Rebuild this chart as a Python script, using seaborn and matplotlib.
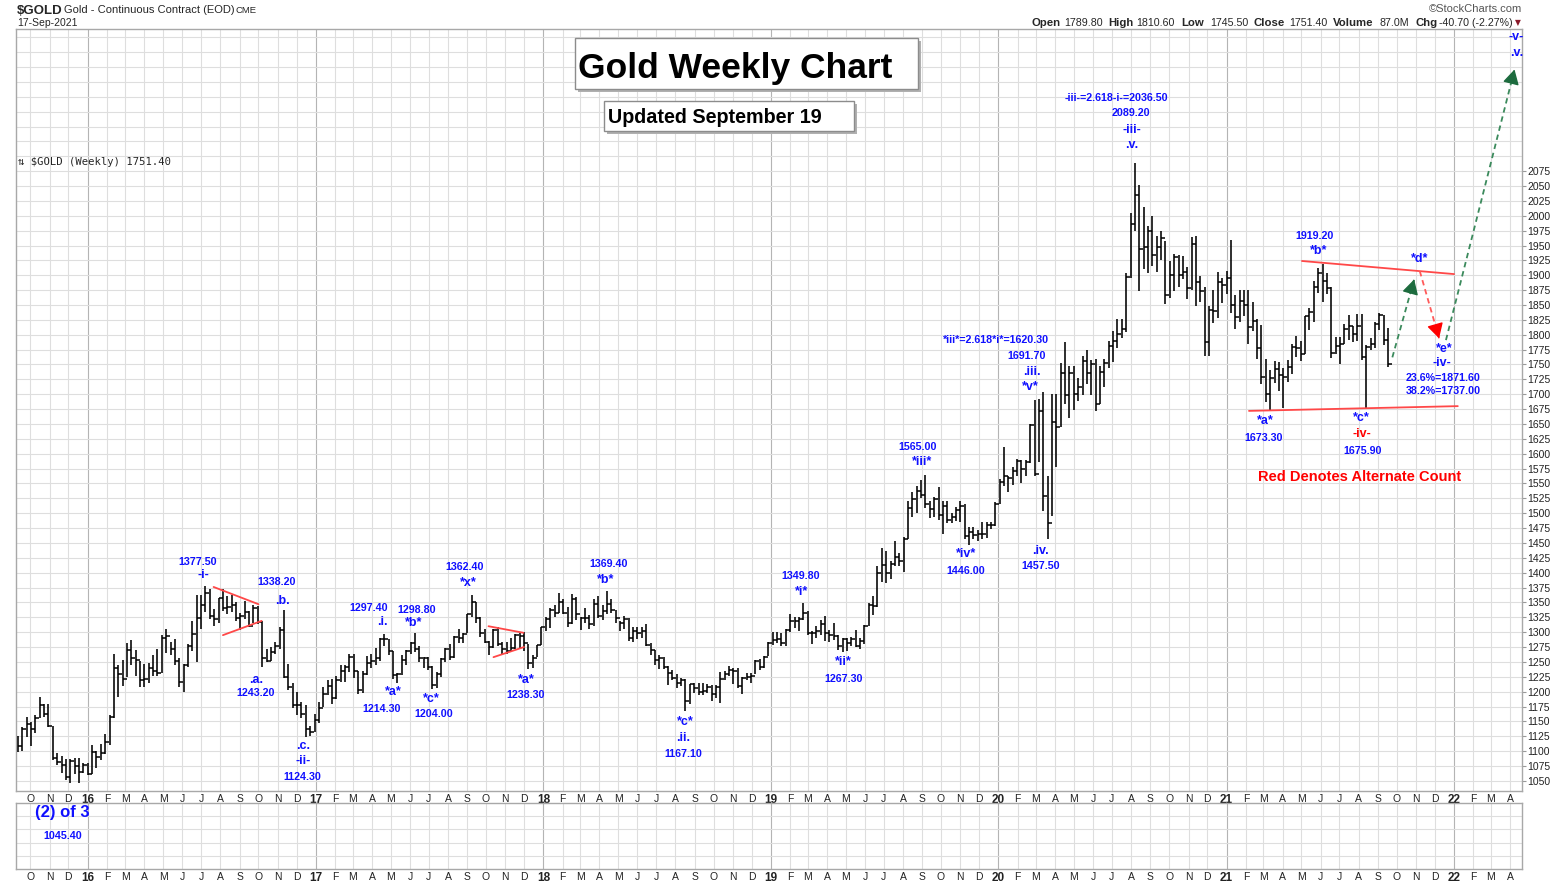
import numpy as np
import pandas as pd
import matplotlib
matplotlib.use("Agg")
import matplotlib.pyplot as plt
import matplotlib.dates as mdates
from matplotlib.patches import Rectangle
import seaborn as sns

# weekly high / low / close (week ending Friday)
high_2015 = [1125, 1141, 1157, 1149, 1160, 1191, 1180, 1180, 1143, 1097, 1091, 1086, 1087, 1088, 1088, 1080]
low_2015 = [1098, 1101, 1124, 1108, 1131, 1155, 1157, 1141, 1085, 1077, 1063, 1052, 1046, 1061, 1046, 1063]
close_2015 = [1108, 1137, 1145, 1137, 1156, 1177, 1163, 1142, 1088, 1081, 1076, 1056, 1084, 1075, 1065, 1076]

high_2016 = [1080, 1111, 1100, 1112, 1128, 1160, 1263, 1244, 1253, 1281, 1287, 1270, 1251,
             1246, 1249, 1262, 1272, 1296, 1306, 1284, 1289, 1257, 1246, 1280, 1318, 1362,
             1362, 1377, 1372, 1339, 1358, 1373, 1361, 1363, 1350, 1333, 1353, 1336, 1346, 1344,
             1318, 1271, 1275, 1284, 1309, 1338, 1246, 1215, 1199, 1183, 1178, 1142, 1163]
low_2016 = [1060, 1062, 1071, 1085, 1096, 1111, 1156, 1191, 1209, 1225, 1244, 1227, 1207,
            1208, 1215, 1227, 1226, 1232, 1265, 1262, 1244, 1208, 1200, 1241, 1268, 1250,
            1306, 1334, 1322, 1310, 1315, 1336, 1331, 1334, 1318, 1304, 1322, 1308, 1316, 1313,
            1241, 1250, 1252, 1263, 1272, 1223, 1203, 1172, 1160, 1156, 1124, 1125, 1133]
close_2016 = [1061, 1098, 1090, 1097, 1116, 1157, 1239, 1230, 1221, 1270, 1257, 1254, 1220,
              1222, 1239, 1235, 1231, 1290, 1294, 1272, 1252, 1216, 1244, 1276, 1297, 1323,
              1345, 1366, 1327, 1322, 1357, 1340, 1342, 1346, 1324, 1327, 1334, 1310, 1341, 1317,
              1257, 1252, 1266, 1276, 1304, 1225, 1208, 1178, 1177, 1162, 1137, 1133, 1152]

high_2017 = [1182, 1207, 1219, 1221, 1226, 1245, 1245, 1264, 1263, 1235, 1234, 1260, 1263,
             1274, 1291, 1297, 1288, 1269, 1232, 1262, 1270, 1283, 1298, 1276, 1258, 1259,
             1243, 1233, 1257, 1274, 1280, 1293, 1306, 1298, 1330, 1362, 1350, 1325, 1306,
             1286, 1306, 1309, 1284, 1284, 1290, 1297, 1299, 1300, 1280, 1262, 1278, 1309]
low_2017 = [1148, 1174, 1195, 1180, 1188, 1216, 1216, 1233, 1223, 1196, 1197, 1228, 1240,
            1244, 1251, 1276, 1262, 1222, 1214, 1228, 1245, 1263, 1267, 1250, 1240, 1236,
            1204, 1206, 1225, 1250, 1254, 1256, 1281, 1281, 1298, 1326, 1316, 1292, 1282,
            1262, 1273, 1276, 1263, 1264, 1266, 1271, 1273, 1268, 1238, 1240, 1258, 1278]
close_2017 = [1173, 1196, 1210, 1190, 1220, 1234, 1242, 1258, 1234, 1202, 1230, 1249, 1251,
              1257, 1289, 1288, 1268, 1228, 1229, 1254, 1268, 1281, 1272, 1256, 1256, 1242,
              1212, 1229, 1255, 1272, 1258, 1292, 1291, 1297, 1330, 1351, 1324, 1298, 1284,
              1275, 1304, 1280, 1272, 1269, 1273, 1296, 1293, 1281, 1248, 1257, 1278, 1309]

high_2018 = [1326, 1340, 1345, 1366, 1355, 1343, 1365, 1359, 1325, 1341, 1329, 1356, 1360,
             1346, 1369, 1356, 1337, 1318, 1327, 1323, 1308, 1308, 1309, 1314, 1281, 1270,
             1262, 1259, 1243, 1236, 1229, 1223, 1221, 1213, 1214, 1214, 1215, 1213, 1212,
             1212, 1233, 1235, 1243, 1239, 1239, 1225, 1232, 1231, 1253, 1255, 1260, 1284]
low_2018 = [1302, 1307, 1326, 1332, 1331, 1308, 1314, 1321, 1303, 1316, 1306, 1310, 1323,
            1320, 1330, 1332, 1316, 1302, 1306, 1286, 1283, 1288, 1291, 1276, 1261, 1245,
            1238, 1238, 1211, 1219, 1206, 1209, 1167, 1180, 1197, 1194, 1194, 1197, 1184,
            1189, 1181, 1220, 1226, 1213, 1206, 1196, 1219, 1214, 1229, 1236, 1239, 1260]
close_2018 = [1322, 1338, 1333, 1350, 1333, 1316, 1356, 1330, 1323, 1324, 1313, 1347, 1327,
              1336, 1347, 1338, 1323, 1315, 1322, 1291, 1302, 1298, 1302, 1278, 1270, 1254,
              1256, 1241, 1231, 1223, 1214, 1219, 1184, 1213, 1206, 1200, 1201, 1207, 1196,
              1207, 1222, 1229, 1236, 1234, 1210, 1223, 1224, 1226, 1252, 1242, 1258, 1282]

high_2019 = [1300, 1300, 1298, 1305, 1331, 1326, 1325, 1349, 1335, 1302, 1311, 1320, 1328,
             1304, 1316, 1296, 1291, 1290, 1292, 1304, 1290, 1312, 1349, 1361, 1411, 1442,
             1436, 1419, 1453, 1433, 1460, 1520, 1535, 1546, 1555, 1565, 1520, 1527, 1544,
             1521, 1521, 1500, 1511, 1520, 1516, 1476, 1477, 1471, 1486, 1486, 1485, 1519]
low_2019 = [1279, 1281, 1277, 1276, 1301, 1307, 1302, 1321, 1295, 1280, 1290, 1296, 1286,
            1283, 1287, 1270, 1267, 1268, 1276, 1275, 1271, 1280, 1310, 1329, 1342, 1384,
            1382, 1389, 1412, 1412, 1401, 1456, 1493, 1501, 1526, 1508, 1492, 1493, 1488,
            1465, 1483, 1483, 1487, 1486, 1456, 1446, 1456, 1453, 1456, 1459, 1473, 1478]
close_2019 = [1287, 1289, 1282, 1303, 1318, 1318, 1322, 1332, 1299, 1298, 1302, 1313, 1298,
              1295, 1294, 1276, 1288, 1281, 1288, 1277, 1285, 1311, 1346, 1344, 1400, 1413,
              1400, 1415, 1427, 1419, 1457, 1509, 1524, 1537, 1530, 1515, 1507, 1524, 1497,
              1512, 1489, 1494, 1505, 1512, 1462, 1468, 1463, 1465, 1465, 1481, 1481, 1515]

high_2020 = [1557, 1611, 1563, 1577, 1591, 1589, 1589, 1650, 1691, 1692, 1703, 1562, 1700,
             1700, 1752, 1788, 1747, 1747, 1728, 1765, 1775, 1757, 1759, 1748, 1759, 1789,
             1807, 1826, 1826, 1904, 2005, 2089, 2052, 2015, 1983, 2000, 1966, 1975, 1958,
             1924, 1936, 1934, 1933, 1914, 1965, 1966, 1899, 1880, 1848, 1875, 1906, 1896]
low_2020 = [1516, 1546, 1536, 1548, 1562, 1551, 1563, 1584, 1563, 1586, 1503, 1457, 1496,
            1578, 1645, 1683, 1660, 1674, 1688, 1699, 1717, 1699, 1671, 1683, 1713, 1744,
            1754, 1777, 1794, 1805, 1896, 1975, 1874, 1911, 1903, 1916, 1906, 1925, 1851,
            1862, 1873, 1881, 1894, 1860, 1875, 1848, 1855, 1765, 1765, 1819, 1829, 1854]
close_2020 = [1552, 1562, 1560, 1571, 1587, 1574, 1586, 1648, 1566, 1672, 1529, 1484, 1654,
              1645, 1736, 1698, 1736, 1700, 1713, 1756, 1735, 1751, 1683, 1737, 1753, 1781,
              1790, 1801, 1810, 1897, 1986, 2035, 1944, 1947, 1975, 1934, 1948, 1962, 1866,
              1900, 1930, 1900, 1905, 1879, 1952, 1889, 1873, 1788, 1841, 1840, 1888, 1883]

high_2021 = [1907, 1959, 1867, 1876, 1875, 1875, 1855, 1826, 1816, 1760, 1740, 1756, 1755,
             1744, 1758, 1784, 1798, 1790, 1832, 1845, 1890, 1913, 1919, 1903, 1880, 1797,
             1796, 1818, 1834, 1815, 1835, 1835, 1782, 1795, 1821, 1836, 1834, 1811]
low_2021 = [1869, 1836, 1809, 1822, 1831, 1785, 1807, 1760, 1717, 1687, 1673, 1719, 1705,
            1677, 1721, 1734, 1763, 1756, 1767, 1808, 1822, 1870, 1855, 1868, 1761, 1768,
            1750, 1784, 1792, 1788, 1789, 1757, 1676, 1774, 1777, 1808, 1783, 1746]
close_2021 = [1895, 1850, 1830, 1856, 1850, 1813, 1823, 1777, 1729, 1700, 1727, 1742, 1733,
              1729, 1745, 1780, 1777, 1768, 1831, 1838, 1881, 1903, 1891, 1879, 1769, 1781,
              1784, 1810, 1814, 1802, 1814, 1763, 1780, 1784, 1818, 1833, 1792, 1751]

# hand drawn trend lines: (date, price, date, price)
red_lines = [
    ("2016-07-21", 1376, "2016-10-01", 1347),
    ("2016-08-05", 1295, "2016-10-06", 1319),
    ("2017-10-05", 1310, "2017-11-30", 1299),
    ("2017-10-13", 1258, "2017-12-01", 1275),
    ("2021-05-02", 1924, "2022-01-01", 1902),
    ("2021-02-06", 1672, "2022-01-07", 1680),
]
# projected path arrows: (date, price, date, price, line colour, head colour)
arrows = [
    ("2021-09-24", 1762, "2021-10-29", 1893, "#3b8a5c", "#1d6b3e"),
    ("2021-11-07", 1907, "2021-12-08", 1794, "#ff5a5a", "#ff0000"),
    ("2021-12-19", 1791, "2022-04-08", 2246, "#3b8a5c", "#1d6b3e"),
]

BLUE = "#1010ff"
RED = "#ff0000"
# wave labels: (date, price, text, font size, colour)
labels = [
    ("2016-06-26", 1418, "1377.50", 7.7, BLUE), ("2016-07-05", 1396, "-i-", 9, BLUE),
    ("2016-10-30", 1384, "1338.20", 7.7, BLUE), ("2016-11-09", 1352, ".b.", 9, BLUE),
    ("2016-09-27", 1220, ".a.", 9, BLUE), ("2016-09-26", 1198, "1243.20", 7.7, BLUE),
    ("2016-12-11", 1109, ".c.", 9, BLUE), ("2016-12-11", 1084, "-ii-", 9, BLUE),
    ("2016-12-11", 1057, "1124.30", 7.7, BLUE),
    ("2017-03-27", 1341, "1297.40", 7.7, BLUE), ("2017-04-17", 1317, ".i.", 9, BLUE),
    ("2017-06-12", 1337, "1298.80", 7.7, BLUE), ("2017-06-07", 1315, "*b*", 9, BLUE),
    ("2017-05-05", 1200, "*a*", 9, BLUE), ("2017-04-17", 1171, "1214.30", 7.7, BLUE),
    ("2017-07-06", 1188, "*c*", 9, BLUE), ("2017-07-09", 1162, "1204.00", 7.7, BLUE),
    ("2017-08-28", 1410, "1362.40", 7.7, BLUE), ("2017-09-02", 1383, "*x*", 9, BLUE),
    ("2017-12-05", 1220, "*a*", 9, BLUE), ("2017-12-03", 1194, "1238.30", 7.7, BLUE),
    ("2018-04-16", 1415, "1369.40", 7.7, BLUE), ("2018-04-11", 1388, "*b*", 9, BLUE),
    ("2018-08-16", 1149, "*c*", 9, BLUE), ("2018-08-14", 1122, ".ii.", 9, BLUE),
    ("2018-08-13", 1095, "1167.10", 7.7, BLUE),
    ("2019-02-18", 1394, "1349.80", 7.7, BLUE), ("2019-02-20", 1368, "*i*", 9, BLUE),
    ("2019-04-27", 1250, "*ii*", 9, BLUE), ("2019-04-27", 1221, "1267.30", 7.7, BLUE),
    ("2019-08-25", 1611, "1565.00", 7.7, BLUE), ("2019-08-31", 1586, "*iii*", 9, BLUE),
    ("2019-11-10", 1431, "*iv*", 9, BLUE), ("2019-11-10", 1403, "1446.00", 7.7, BLUE),
    ("2019-12-28", 1791, "*iii*=2.618*i*=1620.30", 7.7, BLUE),
    ("2020-02-16", 1764, "1691.70", 7.7, BLUE), ("2020-02-24", 1737, ".iii.", 9, BLUE),
    ("2020-02-21", 1712, "*v*", 9, BLUE),
    ("2020-03-09", 1436, ".iv.", 9, BLUE), ("2020-03-09", 1411, "1457.50", 7.7, BLUE),
    ("2020-07-09", 2198, "-iii-=2.618-i-=2036.50", 7.7, BLUE),
    ("2020-07-31", 2172, "2089.20", 7.7, BLUE), ("2020-08-02", 2144, "-iii-", 9, BLUE),
    ("2020-08-02", 2119, ".v.", 9, BLUE),
    ("2021-05-23", 1966, "1919.20", 7.7, BLUE), ("2021-05-28", 1941, "*b*", 9, BLUE),
    ("2021-11-06", 1927, "*d*", 9, BLUE),
    ("2021-03-04", 1655, "*a*", 9, BLUE), ("2021-03-01", 1626, "1673.30", 7.7, BLUE),
    ("2021-08-06", 1660, "*c*", 9, BLUE), ("2021-08-06", 1633, "-iv-", 9, RED),
    ("2021-08-07", 1604, "1675.90", 7.7, BLUE),
    ("2021-12-16", 1776, "*e*", 9, BLUE), ("2021-12-13", 1752, "-iv-", 9, BLUE),
    ("2021-12-14", 1727, "23.6%=1871.60", 7.7, BLUE), ("2021-12-14", 1705, "38.2%=1737.00", 7.7, BLUE),
    ("2021-08-03", 1561, "Red Denotes Alternate Count", 10.5, RED),
    ("2022-04-11", 2300, "-v-", 9, BLUE), ("2022-04-11", 2273, ".v.", 9, BLUE),
]

highs = high_2015 + high_2016 + high_2017 + high_2018 + high_2019 + high_2020 + high_2021
lows = low_2015 + low_2016 + low_2017 + low_2018 + low_2019 + low_2020 + low_2021
closes = close_2015 + close_2016 + close_2017 + close_2018 + close_2019 + close_2020 + close_2021
dates = pd.date_range(end="2021-09-17", periods=len(closes), freq="W-FRI")
df = pd.DataFrame({"date": dates, "high": highs, "low": lows, "close": closes})
df["x"] = mdates.date2num(df["date"])

sns.set_theme(style="white")
plt.rcParams["font.family"] = ["Liberation Sans", "DejaVu Sans"]

W, H = 1565, 885
fig = plt.figure(figsize=(W / 100, H / 100), dpi=100)


def fx(x):
    return x / W


def fy(y):
    return 1 - y / H


def D(s):
    return mdates.datestr2num(s)


ax = fig.add_axes([fx(16), fy(791), fx(1522) - fx(16), fy(29) - fy(791)])
ax2 = fig.add_axes([fx(16), fy(869), fx(1522) - fx(16), fy(803) - fy(869)])

xlim = (D("2015-09-08"), D("2022-04-20"))
months = pd.date_range("2015-10-01", "2022-04-01", freq="MS")
mnum = mdates.date2num(months)
mlab = [m.strftime("%y") if m.month == 1 else m.strftime("%b")[0] for m in months]

for a in (ax, ax2):
    a.set_xlim(*xlim)
    for m, n in zip(months, mnum):
        a.axvline(n, color="#b4b4b4" if m.month == 1 else "#dedede", lw=0.8, zorder=0)
    for s in a.spines.values():
        s.set_color("#a8a8a8")
        s.set_linewidth(1)
    a.set_xticks(mnum)
    a.set_xticklabels(mlab)
    a.tick_params(axis="x", length=0, pad=2, labelsize=7.5, colors="#222222")
    for t in a.get_xticklabels():
        if t.get_text().isdigit():
            t.set_fontweight("bold")
            t.set_fontsize(8.5)
    a.set_xlabel("")
    a.set_ylabel("")

ax.set_ylim(1033, 2314)
for lvl in range(1050, 2301, 25):
    ax.axhline(lvl, color="#dedede", lw=0.8, zorder=0)
ax.set_yticks(range(1050, 2076, 25))
ax.yaxis.tick_right()
ax.tick_params(axis="y", right=True, left=False, labelright=True, labelleft=False,
               length=3, width=0.8, color="#999999", pad=1, labelsize=7.5, labelcolor="#222222")

ax2.set_ylim(0, 5)
for lvl in range(1, 5):
    ax2.axhline(lvl, color="#dedede", lw=0.8, zorder=0)
ax2.set_yticks([])

# price bars
ax.vlines(df["x"], df["low"], df["high"], color="black", lw=1.15, zorder=3)
sns.scatterplot(data=df, x="x", y="close", marker=1, s=9, color="black",
                linewidth=1.1, ax=ax, zorder=4, legend=False)
ax.set_xlabel("")
ax.set_ylabel("")

for d0, p0, d1, p1 in red_lines:
    ax.plot([D(d0), D(d1)], [p0, p1], color="#ff4848", lw=1.3, zorder=5)

for d0, p0, d1, p1, lc, hc in arrows:
    x0, x1 = D(d0), D(d1)
    ax.plot([x0, x1], [p0, p1], color=lc, lw=1.3, ls=(0, (3, 2.2)), zorder=5)
    a0 = ax.transData.transform((x0, p0))
    a1 = ax.transData.transform((x1, p1))
    f = 12 / np.hypot(*(a1 - a0))
    ax.annotate("", xy=(x1, p1), xytext=(x1 - f * (x1 - x0), p1 - f * (p1 - p0)),
                arrowprops=dict(arrowstyle="-|>,head_length=0.9,head_width=0.5",
                                color=hc, lw=1, shrinkA=0, shrinkB=0, mutation_scale=10),
                zorder=6)

for d, p, txt, size, col in labels:
    ax.text(D(d), p, txt, ha="center", va="center", fontsize=size,
            fontweight="bold", color=col, zorder=7)

# title boxes
def box(x0, y0, x1, y1):
    fig.add_artist(Rectangle((fx(x0 + 3), fy(y1 + 3)), fx(x1 - x0), (y1 - y0) / H,
                             transform=fig.transFigure, facecolor="#b0b0b0", edgecolor="none", zorder=8))
    fig.add_artist(Rectangle((fx(x0), fy(y1)), fx(x1 - x0), (y1 - y0) / H,
                             transform=fig.transFigure, facecolor="white", edgecolor="#8c8c8c",
                             lw=1, zorder=9))


box(575, 38, 918, 89)
fig.text(fx(578), fy(78), "Gold Weekly Chart", fontsize=25.5, fontweight="bold",
         color="black", va="baseline", zorder=10)
box(604, 101, 854, 131)
fig.text(fx(608), fy(123), "Updated September 19", fontsize=14.2, fontweight="bold",
         color="black", va="baseline", zorder=10)

# header
fig.text(fx(17), fy(14), "$GOLD", fontsize=9.5, fontweight="bold", va="baseline", parse_math=False)
fig.text(fx(64), fy(13), "Gold - Continuous Contract (EOD)", fontsize=8.0, va="baseline")
fig.text(fx(236), fy(13), "CME", fontsize=6.8, va="baseline")
fig.text(fx(17), fy(26), "17-Sep-2021", fontsize=7.5, va="baseline")
fig.text(fx(1522), fy(12), "\u00a9StockCharts.com", fontsize=8.0, color="#555555",
         ha="right", va="baseline")
hdr = [(1031, "Open", True), (1064, "1789.80", False), (1108, "High", True),
       (1136, "1810.60", False), (1181, "Low", True), (1210, "1745.50", False),
       (1253, "Close", True), (1289, "1751.40", False), (1333, "Volume", True),
       (1379, "87.0M", False), (1415, "Chg", True), (1439, "-40.70 (-2.27%)", False)]
for x, t, b in hdr:
    fig.text(fx(x), fy(26), t, fontsize=8.2 if b else 7.7,
             fontweight="bold" if b else "normal", va="baseline")
fig.text(fx(1515), fy(25), "\u25bc", fontsize=5.5, color="#8b1a2b", va="baseline",
         family="DejaVu Sans")
fig.text(fx(18), fy(162), "\u21c5 $GOLD (Weekly) 1751.40", fontsize=7.6, va="center",
         family="DejaVu Sans Mono", parse_math=False, zorder=10)

# lower panel notes
fig.text(fx(62), fy(813), "(2) of 3", fontsize=12, fontweight="bold", color=BLUE,
         ha="center", va="center")
fig.text(fx(63), fy(836), "1045.40", fontsize=7.7, fontweight="bold", color=BLUE,
         ha="center", va="center")

fig.savefig("out.png", dpi=100)
